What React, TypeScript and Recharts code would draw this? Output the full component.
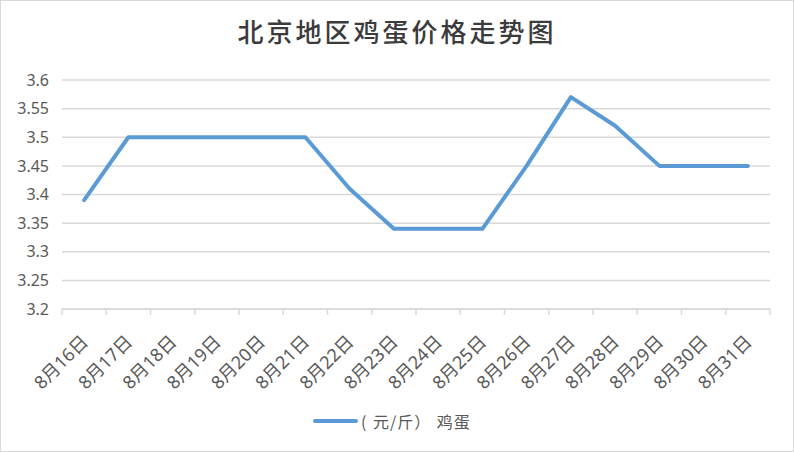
import { LineChart, Line, XAxis, YAxis, CartesianGrid } from 'recharts';

const DATES = [
  '8月16日', '8月17日', '8月18日', '8月19日', '8月20日', '8月21日', '8月22日', '8月23日',
  '8月24日', '8月25日', '8月26日', '8月27日', '8月28日', '8月29日', '8月30日', '8月31日',
];

const EGG_PRICES = [
  3.39, 3.5, 3.5, 3.5, 3.5, 3.5, 3.41, 3.34,
  3.34, 3.34, 3.45, 3.57, 3.52, 3.45, 3.45, 3.45,
];

const Y_TICKS = [3.2, 3.25, 3.3, 3.35, 3.4, 3.45, 3.5, 3.55, 3.6];

const SERIES_NAME = '( 元/斤） 鸡蛋';
const TITLE = '北京地区鸡蛋价格走势图';

const data = DATES.map((d, i) => ({ date: d, price: EGG_PRICES[i] }));

const GRID = '#d9d9d9';
const TEXT = '#595959';
const BLUE = '#5b9bd5';
// half of one category slot (plot is 708px wide, 16 slots)
const HALF = 22.125;

function DateTick(props: any) {
  const { x, y, payload, index } = props;
  const last = index === DATES.length - 1;
  const tx = x + 5;
  const ty = y + 34;
  return (
    <g>
      <line x1={x - HALF} y1={y} x2={x - HALF} y2={y + 6} stroke={GRID} strokeWidth={1.5} />
      {last && (
        <line x1={x + HALF} y1={y} x2={x + HALF} y2={y + 6} stroke={GRID} strokeWidth={1.5} />
      )}
      <text
        x={tx}
        y={ty}
        textAnchor="end"
        transform={`rotate(-45, ${tx}, ${ty})`}
        fill={TEXT}
        fontSize={18}
        fontFamily="'Noto Sans', 'Noto Sans CJK SC', sans-serif"
      >
        {payload.value}
      </text>
    </g>
  );
}

export default function App() {
  return (
    <div style={{ position: 'relative', width: 794, height: 452, background: '#fff' }}>
      <style>{'body{margin:0}'}</style>
      <div
        style={{
          position: 'absolute',
          top: 13,
          left: 0,
          width: 794,
          textAlign: 'center',
          fontFamily: "'Noto Sans CJK SC', sans-serif",
          fontWeight: 500,
          fontSize: 26,
          letterSpacing: 3,
          color: '#3b3b3b',
          lineHeight: '36px',
        }}
      >
        {TITLE}
      </div>

      <div style={{ position: 'absolute', top: 0, left: 0 }}>
        <LineChart
          width={794}
          height={452}
          data={data}
          margin={{ top: 80, right: 24, left: 0, bottom: 43 }}
        >
          <CartesianGrid vertical={false} stroke={GRID} strokeWidth={1.5} />
          <XAxis
            dataKey="date"
            interval={0}
            height={100}
            padding={{ left: HALF, right: HALF }}
            tickLine={false}
            tickSize={0}
            tickMargin={0}
            axisLine={{ stroke: GRID, strokeWidth: 1.5 }}
            tick={<DateTick />}
          />
          <YAxis
            width={62}
            domain={[3.2, 3.6]}
            ticks={Y_TICKS}
            axisLine={false}
            tickLine={false}
            tickMargin={7}
            tick={{ fill: TEXT, fontSize: 16, fontFamily: "'Noto Sans', sans-serif" }}
          />
          <Line
            type="linear"
            dataKey="price"
            stroke={BLUE}
            strokeWidth={4}
            dot={false}
            strokeLinecap="round"
            strokeLinejoin="round"
            isAnimationActive={false}
          />
        </LineChart>
      </div>

      <div
        style={{
          position: 'absolute',
          top: 409,
          left: 313,
          display: 'flex',
          alignItems: 'center',
          fontFamily: "'Noto Sans CJK SC', sans-serif",
          fontSize: 16,
          letterSpacing: 1,
          wordSpacing: 1,
          whiteSpace: 'pre',
          color: TEXT,
          height: 24,
        }}
      >
        <span style={{ display: 'inline-block', width: 45, height: 4, background: BLUE, borderRadius: 2, marginRight: 3 }} />
        <span>{SERIES_NAME}</span>
      </div>

      <div
        style={{
          position: 'absolute',
          inset: 0,
          border: `1px solid ${GRID}`,
          pointerEvents: 'none',
        }}
      />
    </div>
  );
}
